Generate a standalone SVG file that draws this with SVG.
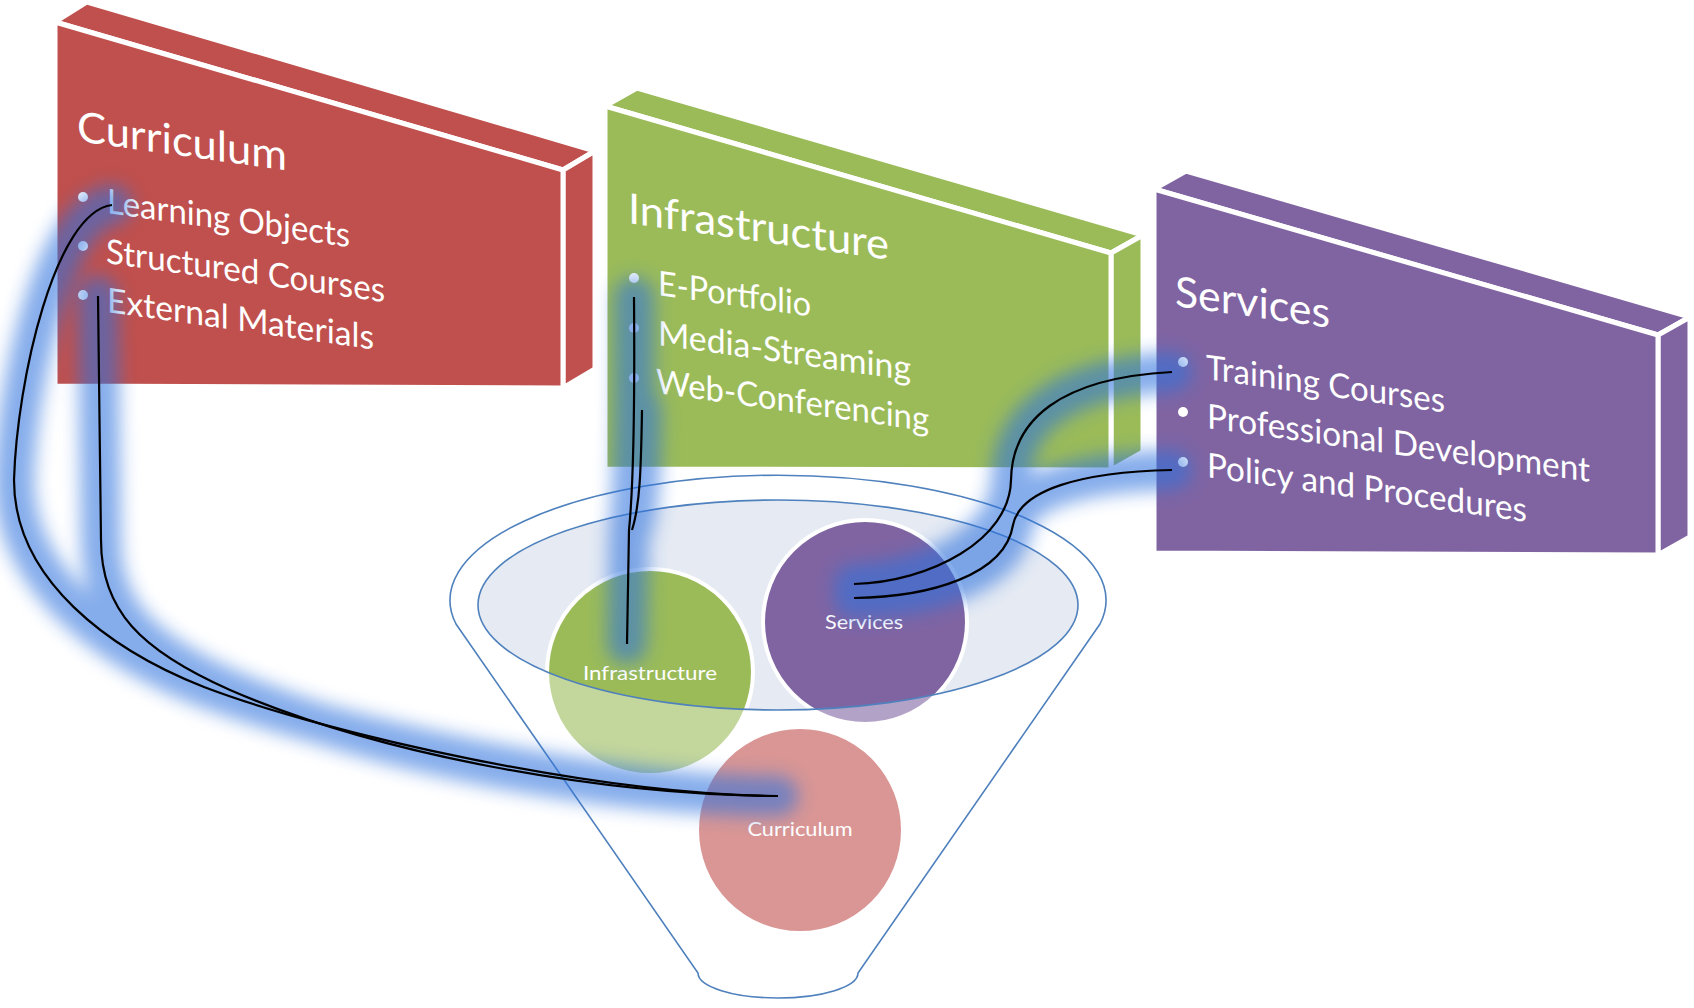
<svg xmlns="http://www.w3.org/2000/svg" width="1694" height="1008" viewBox="0 0 1694 1008">
<defs>
<style>
.face-red{fill:#C0504D;stroke:#fff;stroke-width:5;stroke-linejoin:round}
.face-green{fill:#9BBB59;stroke:#fff;stroke-width:5;stroke-linejoin:round}
.face-purple{fill:#8064A2;stroke:#fff;stroke-width:5;stroke-linejoin:round}
.t{font-family:Lato,"Open Sans","Liberation Sans",sans-serif;fill:#fff}
.title{font-size:42px}
.item{font-size:34px}
.lbl{font-size:20px;text-anchor:middle}
.dot{fill:#fff}
.funnel-line{fill:none;stroke:#4F81BD;stroke-width:1.6}
.glow{fill:none;stroke:#2F72DD;stroke-width:40;stroke-linecap:round;stroke-linejoin:round}
.wire{fill:none;stroke:#000;stroke-width:2.2}
</style>
<filter id="blur" filterUnits="userSpaceOnUse" x="-60" y="-60" width="1820" height="1130">
<feGaussianBlur stdDeviation="9"/>
</filter>
</defs>
<rect width="1694" height="1008" fill="#fff"/>

<g id="box-curriculum">
<polygon class="face-red" points="55,22 563,170 595,151 87,2"/>
<polygon class="face-red" points="563,170 595,151 595,369 563,388"/>
<polygon class="face-red" points="55,22 563,170 563,388 55,386"/>
<text class="t title" transform="translate(77,141) skewY(8)" textLength="210" lengthAdjust="spacingAndGlyphs">Curriculum</text>
<circle class="dot" cx="83" cy="197" r="5"/>
<circle class="dot" cx="83" cy="246" r="5"/>
<circle class="dot" cx="83" cy="295" r="5"/>
<text class="t item" transform="translate(107,213) skewY(8)" textLength="243" lengthAdjust="spacingAndGlyphs">Learning Objects</text>
<text class="t item" transform="translate(106,263) skewY(8)" textLength="279" lengthAdjust="spacingAndGlyphs">Structured Courses</text>
<text class="t item" transform="translate(107,312) skewY(8)" textLength="267" lengthAdjust="spacingAndGlyphs">External Materials</text>
</g>

<g id="box-infrastructure">
<polygon class="face-green" points="605,106 1111,253 1143,235 637,88"/>
<polygon class="face-green" points="1111,253 1143,235 1143,452 1111,470"/>
<polygon class="face-green" points="605,106 1111,253 1111,470 605,469"/>
<text class="t title" transform="translate(628,223) skewY(8)" textLength="261" lengthAdjust="spacingAndGlyphs">Infrastructure</text>
<circle class="dot" cx="634" cy="278" r="5"/>
<circle class="dot" cx="634" cy="328" r="5"/>
<circle class="dot" cx="634" cy="378" r="5"/>
<text class="t item" transform="translate(658,295) skewY(8)" textLength="153" lengthAdjust="spacingAndGlyphs">E-Portfolio</text>
<text class="t item" transform="translate(658,345) skewY(8)" textLength="253" lengthAdjust="spacingAndGlyphs">Media-Streaming</text>
<text class="t item" transform="translate(656,393) skewY(8)" textLength="273" lengthAdjust="spacingAndGlyphs">Web-Conferencing</text>
</g>

<g id="box-services">
<polygon class="face-purple" points="1154,189 1658,335 1690,317 1186,171"/>
<polygon class="face-purple" points="1658,335 1690,317 1690,537 1658,555"/>
<polygon class="face-purple" points="1154,189 1658,335 1658,555 1154,553"/>
<text class="t title" transform="translate(1175,306) skewY(8)" textLength="155" lengthAdjust="spacingAndGlyphs">Services</text>
<circle class="dot" cx="1183" cy="362" r="5"/>
<circle class="dot" cx="1183" cy="412" r="5"/>
<circle class="dot" cx="1183" cy="462" r="5"/>
<text class="t item" transform="translate(1206,379) skewY(8)" textLength="239" lengthAdjust="spacingAndGlyphs">Training Courses</text>
<text class="t item" transform="translate(1207,428) skewY(8)" textLength="383" lengthAdjust="spacingAndGlyphs">Professional Development</text>
<text class="t item" transform="translate(1207,477) skewY(8)" textLength="320" lengthAdjust="spacingAndGlyphs">Policy and Procedures</text>
</g>

<g id="funnel">
<path fill="#fff" d="M456,624 A328,125 0 1 1 1100,624 L858,973 A80,25 0 0 1 698,973 Z"/>
<ellipse cx="778" cy="605" rx="300" ry="105" fill="#E5EAF3"/>
</g>

<g id="circle-infrastructure">
<circle cx="650" cy="672" r="103" fill="#9BBB59" stroke="#fff" stroke-width="4"/>
</g>
<g id="circle-services">
<circle cx="865" cy="622" r="102" fill="#8064A2" stroke="#fff" stroke-width="4"/>
</g>
<g id="circle-curriculum">
<circle cx="800" cy="830" r="103" fill="#C0504D" stroke="#fff" stroke-width="4"/>
</g>

<g id="funnel-overlay">
<path fill="#fff" fill-opacity="0.4" fill-rule="evenodd" d="M456,624 A328,125 0 1 1 1100,624 L858,973 A80,25 0 0 1 698,973 Z M478,605 A300,105 0 1 0 1078,605 A300,105 0 1 0 478,605 Z"/>
<path class="funnel-line" d="M456,624 A328,125 0 1 1 1100,624 L858,973 A80,25 0 0 1 698,973 Z"/>
<ellipse class="funnel-line" cx="778" cy="605" rx="300" ry="105"/>
</g>

<g id="labels">
<text class="t lbl" x="650" y="680" textLength="134" lengthAdjust="spacingAndGlyphs">Infrastructure</text>
<text class="t lbl" x="864" y="629" textLength="78" lengthAdjust="spacingAndGlyphs">Services</text>
<text class="t lbl" x="800" y="836" textLength="105" lengthAdjust="spacingAndGlyphs">Curriculum</text>
</g>

<g id="connectors">
<g filter="url(#blur)" opacity="0.58">
<path class="glow" d="M112,205 C55,212 17,380 14,480 C14,580 110,650 204,687 C330,735 600,795 778,796"/>
<path class="glow" d="M98,296 C99,400 101,480 101,540 C101,610 140,650 230,690 C380,755 600,795 778,796"/>
<path class="glow" d="M634,297 C635,420 633,490 629,530 L627,644"/>
<path class="glow" d="M642,410 C641,470 640,505 632,530"/>
<path class="glow" d="M1172,372 C1060,378 1012,420 1011,480 C1010,540 930,582 854,584"/>
<path class="glow" d="M1172,470 C1080,472 1020,490 1013,525 C1005,575 930,597 854,598"/>
</g>
<path class="wire" d="M112,205 C55,212 17,380 14,480 C14,580 110,650 204,687 C330,735 600,795 778,796"/>
<path class="wire" d="M98,296 C99,400 101,480 101,540 C101,610 140,650 230,690 C380,755 600,795 778,796"/>
<path class="wire" d="M634,297 C635,420 633,490 629,530 L627,644"/>
<path class="wire" d="M642,410 C641,470 640,505 632,530"/>
<path class="wire" d="M1172,372 C1060,378 1012,420 1011,480 C1010,540 930,582 854,584"/>
<path class="wire" d="M1172,470 C1080,472 1020,490 1013,525 C1005,575 930,597 854,598"/>
</g>
</svg>
